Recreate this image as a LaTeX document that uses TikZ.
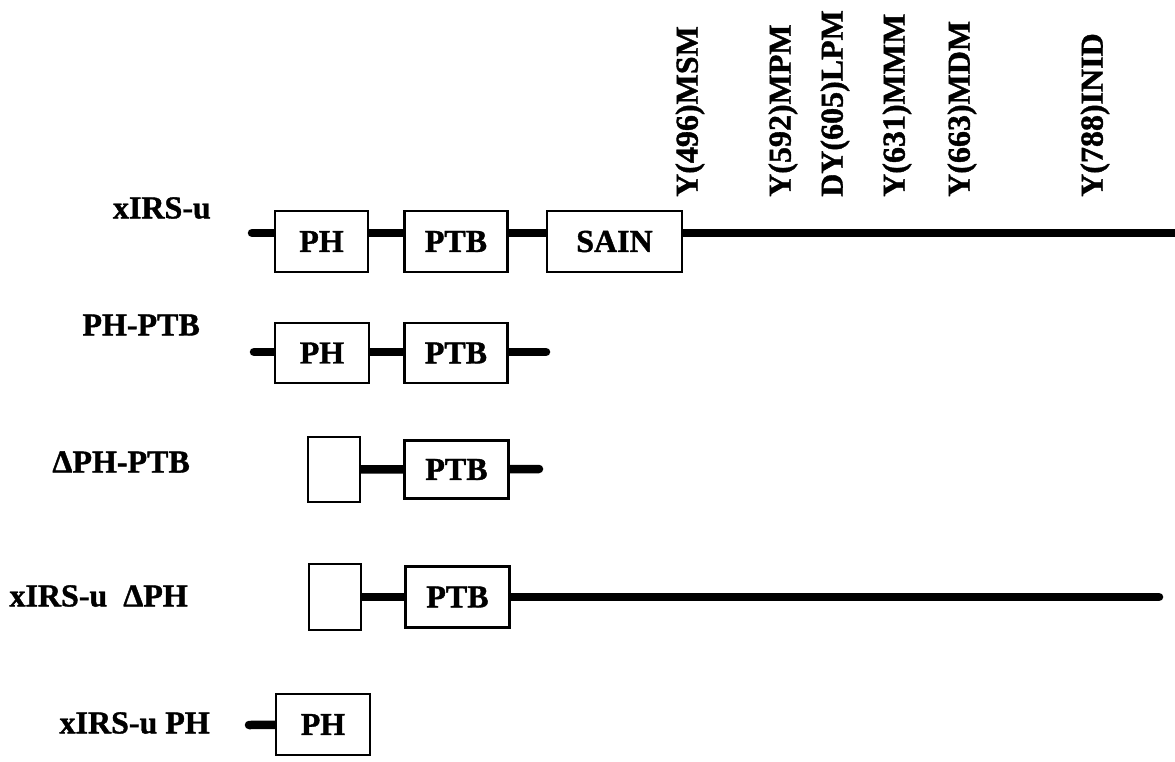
\documentclass[tikz,border=0pt]{standalone}
\usepackage{fontspec}
\setmainfont{Liberation Serif}[BoldFeatures={FakeBold=1.2}]
\usetikzlibrary{positioning, backgrounds}

\newcommand\bigfont{\fontsize{32}{37}\selectfont\bfseries}

\begin{document}
\begin{tikzpicture}[x=1pt, y=-1pt,
    dom/.style={rectangle, draw=black, line width=2.5pt, fill=white,
                inner sep=0pt, minimum height=61pt, font=\bigfont},
    bb/.style={line width=8.5pt, line cap=round},
    construct/.style={anchor=east, inner sep=0pt, font=\bigfont},
    site/.style={rotate=90, anchor=west, inner sep=0pt, font=\bigfont}
  ]
    \useasboundingbox (0,0) rectangle (1175,761);

    % xIRS-u
    \node[dom, minimum width=93pt] (ph1) at (321.5,241.5) {PH};
    \node[dom, minimum width=103pt, right=34pt of ph1] (ptb1) {PTB};
    \node[dom, minimum width=135pt, right=37pt of ptb1] (sain1) {SAIN};
    \coordinate (r1s) at (252,233);
    \coordinate (r1e) at (1185,233);

    % PH-PTB
    \node[dom, minimum width=94pt, minimum height=60pt] (ph2) at (322,353) {PH};
    \node[dom, minimum width=103pt, minimum height=60pt, right=33pt of ph2] (ptb2) {PTB};
    \coordinate (r2s) at (254,352);
    \coordinate (r2e) at (546,352);

    % delta PH-PTB
    \node[dom, minimum width=52pt, minimum height=65pt] (dph3) at (334,469.5) {};
    \node[dom, minimum width=104pt, minimum height=58pt, right=42pt of dph3] (ptb3) {PTB};
    \coordinate (r3e) at (539,469);

    % xIRS-u delta PH
    \node[dom, minimum width=52pt, minimum height=66pt] (dph4) at (335,597) {};
    \node[dom, minimum width=104pt, right=42pt of dph4] (ptb4) {PTB};
    \coordinate (r4e) at (1159,597);

    % xIRS-u PH
    \node[dom, minimum width=94pt] (ph5) at (323,724.5) {PH};
    \coordinate (r5s) at (249,725);

    % Backbones
    \begin{scope}[on background layer]
      \draw[bb] (r1s) -- (r1e);
      \draw[bb] (r2s) -- (r2e);
      \draw[bb] (dph3) -- (r3e);
      \draw[bb] (dph4) -- (r4e);
      \draw[bb] (r5s) -- (ph5);
    \end{scope}

    % Construct names
    \node[construct] (n1) at (211,208) {xIRS-u};
    \node[construct] (n2) at (200,325) {PH-PTB};
    \node[construct] (n3) at (190,462) {ΔPH-PTB};
    \node[construct] (n4) at (188,596) {xIRS-u\ \ ΔPH};
    \node[construct] (n5) at (210,723) {xIRS-u PH};

    % Tyrosine sites
    \foreach \px/\motif [count=\i] in {690/Y(496)MSM, 783/Y(592)MPM,
        835/DY(605)LPM, 897/Y(631)MMM, 962/Y(663)MDM, 1095/Y(788)INID}
      \node[site] (s\i) at (\px,197) {\motif};

  \end{tikzpicture}
\end{document}
